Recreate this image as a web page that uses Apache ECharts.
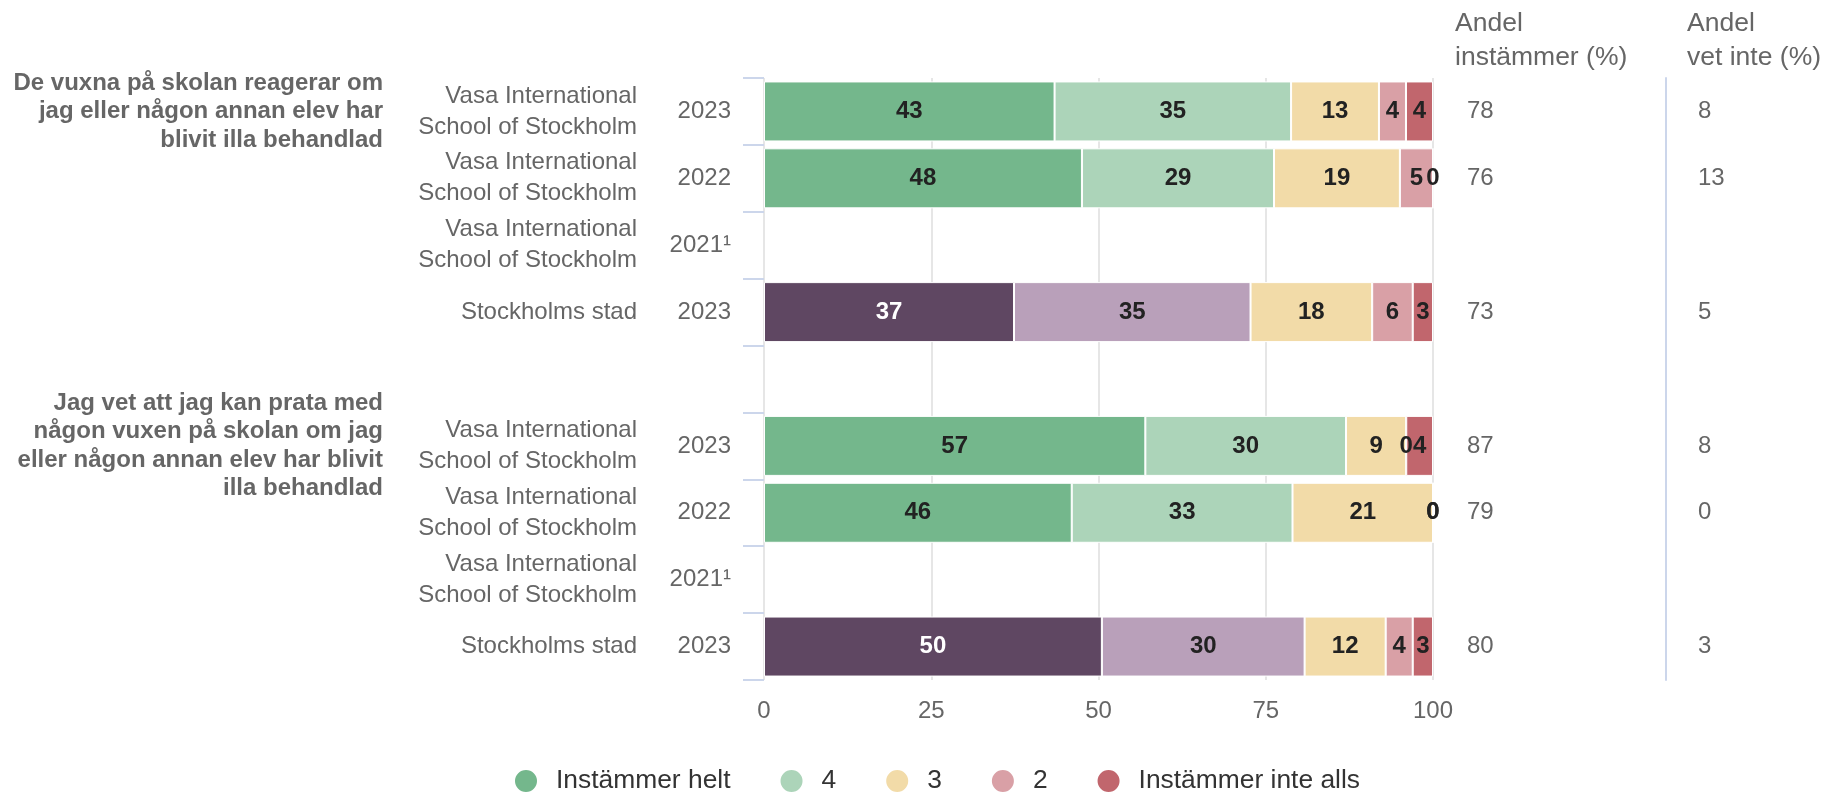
<!DOCTYPE html>
<html>
<head>
<meta charset="utf-8">
<script src="https://cdn.jsdelivr.net/npm/echarts@6/dist/echarts.min.js"></script>
<style>
html,body{margin:0;padding:0;background:#fff;}
#chart{width:1840px;height:793px;}
</style>
</head>
<body>
<div id="chart"></div>
<script>
// ---------- data ----------
const rowNames = [
  'Vasa International\nSchool of Stockholm',
  'Vasa International\nSchool of Stockholm',
  'Vasa International\nSchool of Stockholm',
  'Stockholms stad',
  '',
  'Vasa International\nSchool of Stockholm',
  'Vasa International\nSchool of Stockholm',
  'Vasa International\nSchool of Stockholm',
  'Stockholms stad'
];
const rowYears = ['2023', '2022', '2021¹', '2023', '', '2023', '2022', '2021¹', '2023'];
const groupTitles = [
  'De vuxna på skolan reagerar om\njag eller någon annan elev har\nblivit illa behandlad',
  '', '', '', '',
  'Jag vet att jag kan prata med\nnågon vuxen på skolan om jag\neller någon annan elev har blivit\nilla behandlad',
  '', '', ''
];
const seriesNames = ['Instämmer helt', '4', '3', '2', 'Instämmer inte alls'];
const instammerHelt = [43, 48, null, 37, null, 57, 46, null, 50];
const svar4        = [35, 29, null, 35, null, 30, 33, null, 30];
const svar3        = [13, 19, null, 18, null, 9, 21, null, 12];
const svar2        = [4, 5, null, 6, null, 0, 0, null, 4];
const instammerInteAlls = [4, 0, null, 3, null, 4, 0, null, 3];
const andelInstammer = [78, 76, null, 73, null, 87, 79, null, 80];
const andelVetInte   = [8, 13, null, 5, null, 8, 0, null, 3];
const xTicks = [0, 25, 50, 75, 100];

// ---------- styling ----------
const FONT = "'Liberation Sans', Arial, Helvetica, sans-serif";
const schoolColors = ['#74b78c', '#acd4b9', '#f2dba8', '#d9a0a6', '#c1666d'];
const cityColors   = ['#5f4762', '#b9a0ba', '#f2dba8', '#d9a0a6', '#c1666d'];
const labelColorsCity = ['#ffffff', '#222222', '#222222', '#222222', '#222222'];

const allSeries = [instammerHelt, svar4, svar3, svar2, instammerInteAlls];
const isCity = rowNames.map(n => n === 'Stockholms stad');
const rowSums = rowNames.map((_, r) => {
  let s = 0, any = false;
  allSeries.forEach(arr => { if (arr[r] != null) { s += arr[r]; any = true; } });
  return any ? s : null;
});

const series = allSeries.map((arr, si) => ({
  name: seriesNames[si],
  type: 'bar',
  stack: 'total',
  barWidth: 60,
  yAxisIndex: 0,
  itemStyle: { color: schoolColors[si], borderColor: '#ffffff', borderWidth: 1 },
  label: {
    show: true,
    position: 'inside',
    fontFamily: FONT,
    fontSize: 24,
    fontWeight: 'bold',
    color: '#222222',
    formatter: p => (arr[p.dataIndex] == null ? '' : String(arr[p.dataIndex]))
  },
  data: arr.map((v, r) => {
    if (v == null) return '-';
    const item = { value: v / rowSums[r] * 100 };
    if (isCity[r]) {
      item.itemStyle = { color: cityColors[si] };
      item.label = { color: labelColorsCity[si] };
    }
    return item;
  })
}));

const chart = echarts.init(document.getElementById('chart'), null, { renderer: 'canvas' });
const baseLabel = { fontFamily: FONT, fontSize: 24, color: '#666666', interval: 0 };
const headerStyle = { fontFamily: FONT, fontSize: 26.5, lineHeight: 34, fontWeight: 'normal', color: '#666666' };

chart.setOption({
  animation: false,
  backgroundColor: '#ffffff',
  textStyle: { fontFamily: FONT },
  title: [
    { text: 'Andel\ninstämmer (%)', left: 1450, top: 2, textStyle: headerStyle },
    { text: 'Andel\nvet inte (%)', left: 1682, top: 2, textStyle: headerStyle }
  ],
  legend: {
    data: seriesNames,
    left: 508,
    top: 763,
    icon: 'circle',
    itemWidth: 24,
    itemHeight: 24,
    itemGap: 48,
    textStyle: { fontFamily: FONT, fontSize: 26.4, color: '#333333', padding: [0, 0, 0, 13] }
  },
  grid: { left: 764, width: 669, top: 78, height: 602, containLabel: false },
  xAxis: {
    type: 'value',
    min: xTicks[0],
    max: xTicks[xTicks.length - 1],
    interval: 25,
    axisLine: { show: false },
    axisTick: { show: false },
    splitLine: { show: true, lineStyle: { color: '#e6e6e6', width: 2 } },
    axisLabel: { fontFamily: FONT, fontSize: 24, color: '#666666', margin: 19 }
  },
  yAxis: [
    {
      type: 'category', data: rowYears, inverse: true, position: 'left',
      axisLine: { show: false },
      axisTick: { show: true, length: 21, lineStyle: { color: '#ccd6eb', width: 2 } },
      axisLabel: Object.assign({}, baseLabel, { margin: 33 }),
      splitLine: { show: false }
    },
    {
      type: 'category', data: rowNames, inverse: true, position: 'left', offset: 0,
      axisLine: { show: false }, axisTick: { show: false },
      axisLabel: Object.assign({}, baseLabel, { margin: 127, lineHeight: 31, align: 'right' })
    },
    {
      type: 'category', data: groupTitles, inverse: true, position: 'left', offset: 0,
      axisLine: { show: false }, axisTick: { show: false },
      axisLabel: Object.assign({}, baseLabel, { margin: 381, lineHeight: 28.5, fontWeight: 'bold', align: 'right' })
    },
    {
      type: 'category', data: andelInstammer.map(v => v == null ? '' : String(v)), inverse: true,
      position: 'right', offset: 0,
      axisLine: { show: false }, axisTick: { show: false },
      axisLabel: Object.assign({}, baseLabel, { margin: 34 })
    },
    {
      type: 'category', data: andelVetInte.map(v => v == null ? '' : String(v)), inverse: true,
      position: 'right', offset: 233,
      axisLine: { show: true, lineStyle: { color: '#ccd6eb', width: 2 } }, axisTick: { show: false },
      axisLabel: Object.assign({}, baseLabel, { margin: 32 })
    }
  ],
  series: series
});
</script>
</body>
</html>
